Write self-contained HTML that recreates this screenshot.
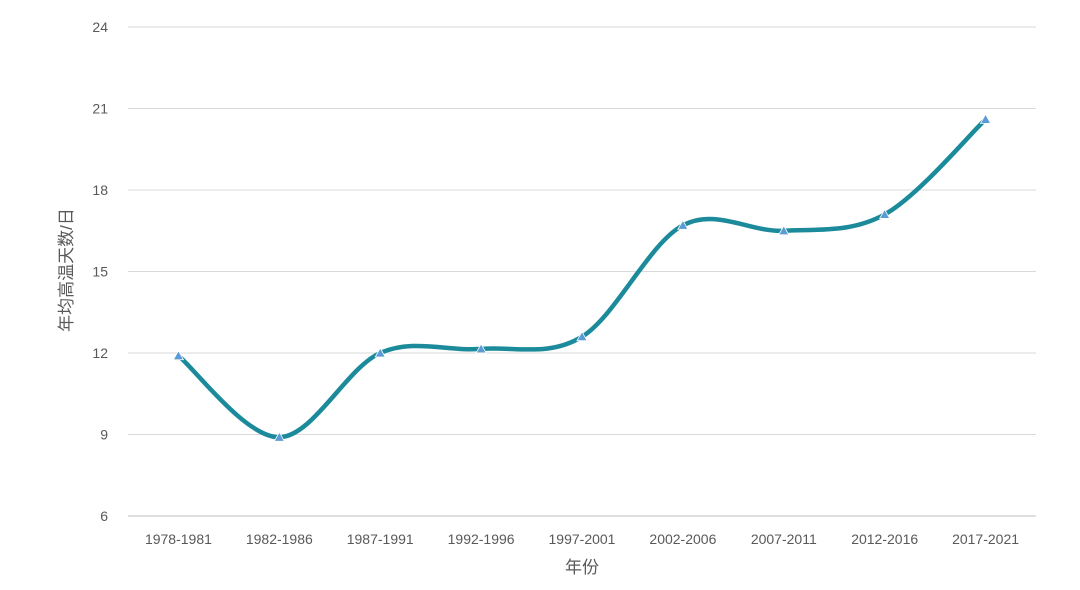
<!DOCTYPE html>
<html><head><meta charset="utf-8"><style>
body{margin:0;background:#fff;}
svg text{font-family:"Liberation Sans","Noto Sans CJK SC",sans-serif;fill:#595959;}
</style></head><body>
<svg width="1080" height="585" xmlns="http://www.w3.org/2000/svg">
<g id="grid"></g>
<g id="yt"></g>
<g id="xt"></g>
<path id="line" fill="none" stroke="#1b8a9b" stroke-width="4.5" stroke-linecap="round"/>
<g id="marks"></g>
<text x="72" y="270" font-size="17" text-anchor="middle" transform="rotate(-90 72 270)">年均高温天数/日</text>
<text x="582" y="573" font-size="17" text-anchor="middle">年份</text>
</svg>
<script>
const categories=["1978-1981","1982-1986","1987-1991","1992-1996","1997-2001","2002-2006","2007-2011","2012-2016","2017-2021"];
const values=[11.9,8.9,12.0,12.15,12.6,16.7,16.5,17.1,20.6];
const yTicks=[6,9,12,15,18,21,24];
const NS="http://www.w3.org/2000/svg";
const x0=128,x1=1036,yMin=6,yMax=24,py0=516,py1=27;
const bw=(x1-x0)/categories.length;
const xs=i=>x0+bw*(i+0.5);
const ys=v=>py0-(v-yMin)/(yMax-yMin)*(py0-py1);
const grid=document.getElementById('grid'),yt=document.getElementById('yt'),xt=document.getElementById('xt');
yTicks.forEach(t=>{
 const l=document.createElementNS(NS,'line');
 
 
 l.setAttribute('x1',x0);l.setAttribute('x2',x1);l.setAttribute('y1',ys(t));l.setAttribute('y2',ys(t));
 l.setAttribute('stroke',t===yMin?'#bfbfbf':'#d9d9d9');l.setAttribute('stroke-width','1');
 grid.appendChild(l);
 const tx=document.createElementNS(NS,'text');
 
 
 tx.setAttribute('x',108);tx.setAttribute('y',ys(t)+5);tx.setAttribute('text-anchor','end');tx.setAttribute('font-size','14');
 tx.textContent=t;yt.appendChild(tx);
});
categories.forEach((c,i)=>{
 const tx=document.createElementNS(NS,'text');
 
 
 tx.setAttribute('x',xs(i));tx.setAttribute('y',544);tx.setAttribute('text-anchor','middle');tx.setAttribute('font-size','14');
 tx.textContent=c;xt.appendChild(tx);
});
const P=values.map((v,i)=>[xs(i),ys(v)]);
let d='M'+P[0][0]+','+P[0][1];
for(let i=0;i<P.length-1;i++){
 const p0=P[Math.max(i-1,0)],p1=P[i],p2=P[i+1],p3=P[Math.min(i+2,P.length-1)];
 const t=1/6;
 d+=' C'+(p1[0]+(p2[0]-p0[0])*t)+','+(p1[1]+(p2[1]-p0[1])*t)+' '+(p2[0]-(p3[0]-p1[0])*t)+','+(p2[1]-(p3[1]-p1[1])*t)+' '+p2[0]+','+p2[1];
}
document.getElementById('line').setAttribute('d',d);
const marks=document.getElementById('marks');
P.forEach(p=>{
 const m=document.createElementNS(NS,'polygon');
 
 
 m.setAttribute('points',`${p[0]},${p[1]-5} ${p[0]-5},${p[1]+4} ${p[0]+5},${p[1]+4}`);
 m.setAttribute('fill','#5b9bd5');m.setAttribute('stroke','#fff');m.setAttribute('stroke-width','0.8');
 marks.appendChild(m);
});
</script>
</body></html>
